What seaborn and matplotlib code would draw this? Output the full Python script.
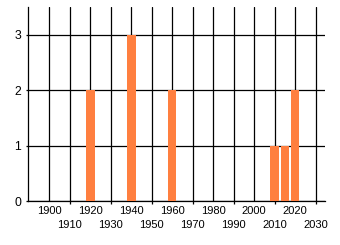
import matplotlib
matplotlib.use("Agg")
import matplotlib.pyplot as plt
import seaborn as sns
import pandas as pd

years = [1920, 1940, 1960, 2010, 2015, 2020]
counts = [2, 3, 2, 1, 1, 2]
major_ticks = [1900, 1920, 1940, 1960, 1980, 2000, 2020]
minor_ticks = [1910, 1930, 1950, 1970, 1990, 2010, 2030]
y_ticks = [0, 1, 2, 3]

sns.set_style("white")
plt.rcParams['font.family'] = ['Liberation Sans', 'DejaVu Sans']

df = pd.DataFrame({"year": years, "count": counts})

fig = plt.figure(figsize=(3.4, 2.45), dpi=100)
ax = fig.add_axes([28 / 340, 1 - 201 / 245, (325 - 28) / 340, (201 - 7) / 245])

sns.barplot(data=df, x="year", y="count", native_scale=True, width=0.84,
            color="#ff7f3f", saturation=1, ax=ax, zorder=3, errorbar=None,
            linewidth=0, edgecolor="none")

ax.set_xlim(1889.6, 2034.6)
ax.set_ylim(0, 3.5)
ax.set_xticks(major_ticks)
ax.set_xticklabels([str(t) for t in major_ticks])
ax.set_xticks(minor_ticks, minor=True)
ax.set_xticklabels([str(t) for t in minor_ticks], minor=True)
ax.set_yticks(y_ticks)
ax.set_yticklabels([str(t) for t in y_ticks])

ax.grid(True, which="both", axis="x", color="black", linewidth=0.9, zorder=1)
ax.grid(True, which="major", axis="y", color="black", linewidth=0.9, zorder=1)
ax.set_axisbelow(True)

ax.tick_params(axis="x", which="major", direction="out", length=2.2, width=0.9,
               color="black", labelsize=8, pad=1.2, labelcolor="black")
ax.tick_params(axis="x", which="minor", direction="out", length=2.2, width=0.9,
               color="black", labelsize=8, pad=11.8, labelcolor="black", bottom=True)
ax.tick_params(axis="y", direction="out", length=1.6, width=0.9, color="black",
               labelsize=8.8, pad=3.5, labelcolor="black", left=True)

for s in ["top", "right"]:
    ax.spines[s].set_visible(False)
for s in ["left", "bottom"]:
    ax.spines[s].set_color("black")
    ax.spines[s].set_linewidth(0.9)

ax.set_xlabel("")
ax.set_ylabel("")

fig.savefig("out.png", dpi=100)
